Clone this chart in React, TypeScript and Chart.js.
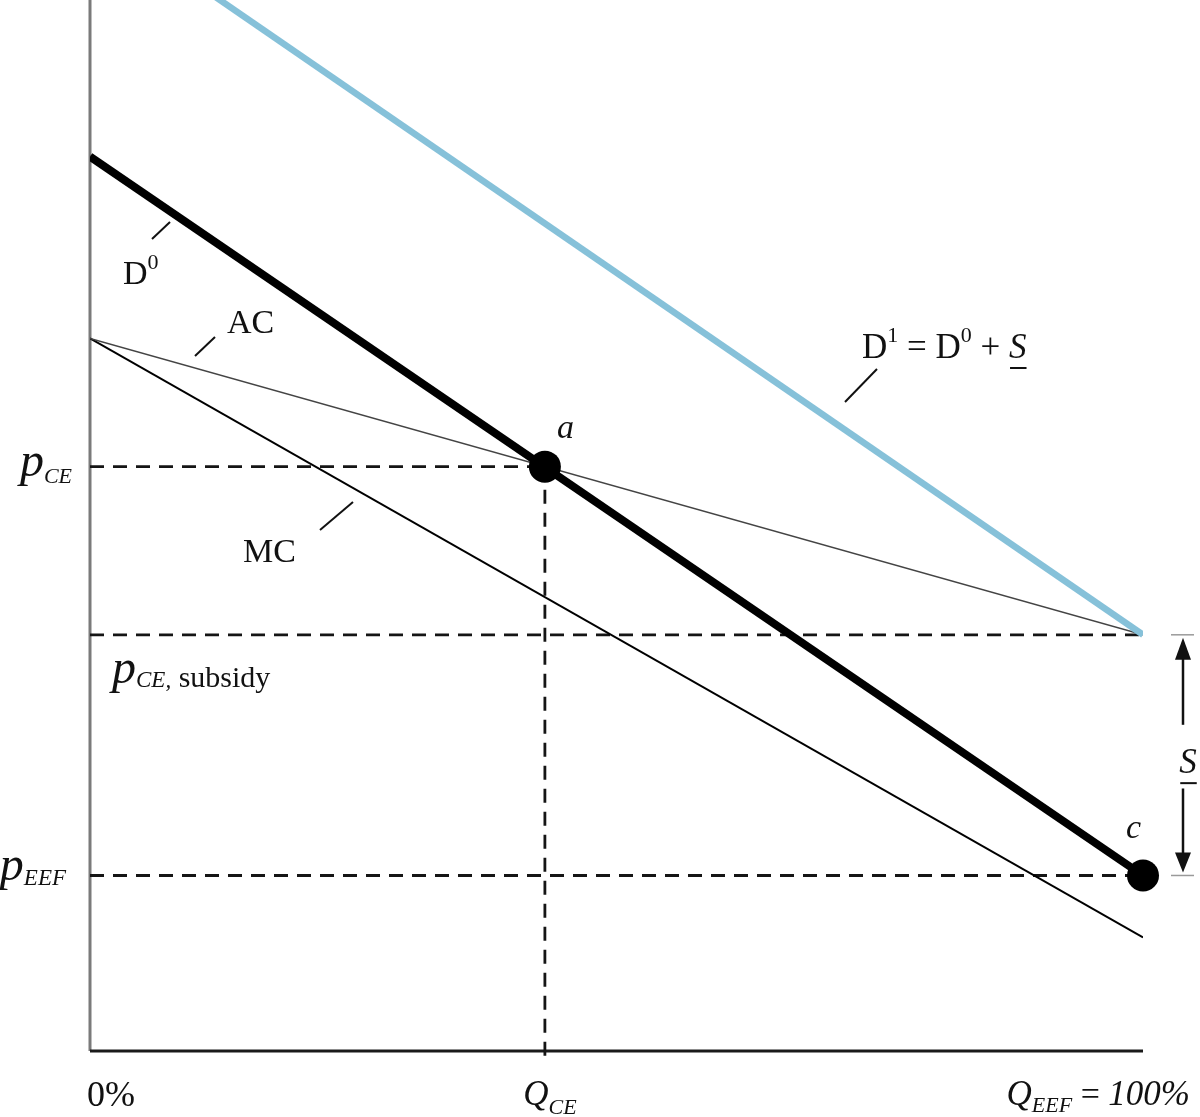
import React, { useEffect, useRef } from "react";
import { Chart, registerables } from "chart.js";

Chart.register(...registerables);

// Quantity share (percent of EEF) at the two ends of each straight curve
const quantityEnds = [0, 100];
// Price levels (arbitrary units, 0..100 of the visible price axis)
const demand0 = [85.1, 16.7];
const demand1 = [108.5, 39.6];
const averageCost = [67.8, 39.6];
const marginalCost = [67.8, 10.8];
const qCE = 43.2;
const pCE = 55.6;
const pSubsidy = 39.6;
const pEEF = 16.7;

const SERIF = '"Liberation Serif", "DejaVu Serif", "Times New Roman", serif';

type Run = { t: string; size: number; italic?: boolean; dy?: number; underline?: boolean };

function fontOf(r: Run) {
  return `${r.italic ? "italic " : ""}${r.size}px ${SERIF}`;
}

function drawRuns(ctx: CanvasRenderingContext2D, x: number, y: number, runs: Run[], align: "left" | "right" | "center" = "left") {
  const widths: number[] = [];
  let total = 0;
  for (const r of runs) {
    ctx.font = fontOf(r);
    const w = ctx.measureText(r.t).width;
    widths.push(w);
    total += w;
  }
  let cx = align === "left" ? x : align === "right" ? x - total : x - total / 2;
  ctx.textAlign = "left";
  ctx.textBaseline = "alphabetic";
  ctx.fillStyle = "#111";
  runs.forEach((r, i) => {
    ctx.font = fontOf(r);
    ctx.fillText(r.t, cx, y + (r.dy || 0));
    if (r.underline) {
      ctx.fillRect(cx + 1, y + (r.dy || 0) + 9, widths[i] - 1, 2);
    }
    cx += widths[i];
  });
}

function seg(ctx: CanvasRenderingContext2D, x1: number, y1: number, x2: number, y2: number, w = 2, color = "#111") {
  ctx.beginPath();
  ctx.strokeStyle = color;
  ctx.lineWidth = w;
  ctx.setLineDash([]);
  ctx.moveTo(x1, y1);
  ctx.lineTo(x2, y2);
  ctx.stroke();
}

const annotationPlugin = {
  id: "econAnnotations",
  afterDatasetsDraw(chart: any) {
    const ctx: CanvasRenderingContext2D = chart.ctx;
    const xs = chart.scales.x;
    const ys = chart.scales.y;
    const X = (v: number) => xs.getPixelForValue(v);
    const Y = (v: number) => ys.getPixelForValue(v);
    ctx.save();

    // axis labels
    drawRuns(ctx, X(0) - 18, Y(pCE) + 9, [
      { t: "p", size: 48, italic: true },
      { t: "CE", size: 22, italic: true, dy: 7 },
    ], "right");
    drawRuns(ctx, X(0) + 22, Y(pSubsidy) + 48, [
      { t: "p", size: 48, italic: true },
      { t: "CE,", size: 23, italic: true, dy: 4 },
      { t: " subsidy", size: 30, dy: 4 },
    ]);
    drawRuns(ctx, X(0) - 24, Y(pEEF) + 5, [
      { t: "p", size: 48, italic: true },
      { t: "EEF", size: 23, italic: true, dy: 5 },
    ], "right");
    drawRuns(ctx, X(0) + 21, Y(0) + 55, [{ t: "0%", size: 36 }], "center");
    drawRuns(ctx, X(qCE) + 5, Y(0) + 54, [
      { t: "Q", size: 35, italic: true },
      { t: "CE", size: 22, italic: true, dy: 9 },
    ], "center");
    drawRuns(ctx, X(100) + 47, Y(0) + 54, [
      { t: "Q", size: 35, italic: true },
      { t: "EEF", size: 22, italic: true, dy: 7 },
      { t: " = ", size: 34 },
      { t: "100%", size: 35, italic: true },
    ], "right");

    // point labels
    drawRuns(ctx, X(qCE) + 12, Y(pCE) - 29, [{ t: "a", size: 34, italic: true }]);
    drawRuns(ctx, X(100) - 17, Y(pEEF) - 37, [{ t: "c", size: 34, italic: true }]);

    // curve labels
    drawRuns(ctx, 123, 284, [
      { t: "D", size: 34 },
      { t: "0", size: 22, dy: -15 },
    ]);
    seg(ctx, 152, 239, 170, 222);
    drawRuns(ctx, 227, 333, [{ t: "AC", size: 34 }]);
    seg(ctx, 195, 356, 215, 337);
    drawRuns(ctx, 243, 562, [{ t: "MC", size: 34 }]);
    seg(ctx, 320, 530, 353, 502);
    drawRuns(ctx, 862, 358, [
      { t: "D", size: 35 },
      { t: "1", size: 22, dy: -16 },
      { t: " = D", size: 35 },
      { t: "0", size: 22, dy: -16 },
      { t: " + ", size: 35 },
      { t: "S", size: 35, italic: true, underline: true },
    ]);
    seg(ctx, 845, 402, 877, 369);

    // subsidy arrow
    const ax = X(100) + 40;
    const yTop = Y(pSubsidy);
    const yBot = Y(pEEF);
    seg(ctx, ax - 12, yTop, ax + 11, yTop, 1.5, "#9a9a9a");
    seg(ctx, ax - 12, yBot, ax + 11, yBot, 1.5, "#9a9a9a");
    ctx.fillStyle = "#111";
    ctx.beginPath();
    ctx.moveTo(ax, yTop + 3);
    ctx.lineTo(ax - 8, yTop + 25);
    ctx.lineTo(ax + 8, yTop + 25);
    ctx.closePath();
    ctx.fill();
    seg(ctx, ax, yTop + 24, ax, yTop + 90, 2.5);
    ctx.beginPath();
    ctx.moveTo(ax, yBot - 3);
    ctx.lineTo(ax - 8, yBot - 23);
    ctx.lineTo(ax + 8, yBot - 23);
    ctx.closePath();
    ctx.fill();
    seg(ctx, ax, yBot - 22, ax, yBot - 87, 2.5);
    drawRuns(ctx, ax + 5, (yTop + yBot) / 2 + 18, [{ t: "S", size: 35, italic: true, underline: true }], "center");

    ctx.restore();
  },
};

function line(xv: number[], yv: number[]) {
  return xv.map((x, i) => ({ x, y: yv[i] }));
}

export default function App() {
  const ref = useRef<HTMLCanvasElement | null>(null);
  useEffect(() => {
    if (!ref.current) return;
    const dash = [14, 9];
    const dashColor = "#151515";
    const chart = new Chart(ref.current, {
      type: "scatter",
      data: {
        datasets: [
          {
            label: "a",
            data: [{ x: qCE, y: pCE }],
            pointRadius: 16,
            pointBackgroundColor: "#000",
            pointBorderWidth: 0,
            showLine: false,
            clip: false,
          } as any,
          {
            label: "c",
            data: [{ x: 100, y: pEEF }],
            pointRadius: 16,
            pointBackgroundColor: "#000",
            pointBorderWidth: 0,
            showLine: false,
            clip: false,
          } as any,
          {
            label: "D0",
            data: line(quantityEnds, demand0),
            showLine: true,
            borderColor: "#000",
            borderWidth: 8,
            pointRadius: 0,
          },
          {
            label: "D1",
            data: line(quantityEnds, demand1),
            showLine: true,
            borderColor: "#86C1D9",
            borderWidth: 6.5,
            pointRadius: 0,
          },
          {
            label: "AC",
            data: line(quantityEnds, averageCost),
            showLine: true,
            borderColor: "#444",
            borderWidth: 1.5,
            pointRadius: 0,
          },
          {
            label: "MC",
            data: line(quantityEnds, marginalCost),
            showLine: true,
            borderColor: "#000",
            borderWidth: 2,
            pointRadius: 0,
          },
          {
            label: "pCE",
            data: [{ x: 0, y: pCE }, { x: qCE, y: pCE }],
            showLine: true,
            borderColor: dashColor,
            borderWidth: 2.8,
            borderDash: dash,
            pointRadius: 0,
          },
          {
            label: "QCE",
            data: [{ x: qCE, y: pCE }, { x: qCE, y: -1.05 }],
            showLine: true,
            borderColor: dashColor,
            borderWidth: 2.8,
            borderDash: dash,
            pointRadius: 0,
            clip: false,
          } as any,
          {
            label: "pSubsidy",
            data: [{ x: 0, y: pSubsidy }, { x: 100, y: pSubsidy }],
            showLine: true,
            borderColor: dashColor,
            borderWidth: 2.8,
            borderDash: dash,
            pointRadius: 0,
          },
          {
            label: "pEEF",
            data: [{ x: 0, y: pEEF }, { x: 100, y: pEEF }],
            showLine: true,
            borderColor: dashColor,
            borderWidth: 2.8,
            borderDash: dash,
            pointRadius: 0,
          },
          {
            label: "xAxis",
            data: [{ x: 0, y: 0 }, { x: 100, y: 0 }],
            showLine: true,
            borderColor: "#1a1a1a",
            borderWidth: 3,
            pointRadius: 0,
            clip: false,
          } as any,
          {
            label: "yAxis",
            data: [{ x: 0, y: 0 }, { x: 0, y: 100 }],
            showLine: true,
            borderColor: "#7a7a7a",
            borderWidth: 3,
            pointRadius: 0,
            clip: false,
          } as any,
        ],
      },
      options: {
        responsive: false,
        animation: false,
        devicePixelRatio: 1,
        layout: { autoPadding: false, padding: { left: 90, right: 57, top: 0, bottom: 66 } },
        scales: {
          x: { type: "linear", min: 0, max: 100, display: false },
          y: { type: "linear", min: 0, max: 100, display: false },
        },
        plugins: {
          legend: { display: false },
          tooltip: { enabled: false },
        },
      } as any,
      plugins: [annotationPlugin],
    });
    return () => chart.destroy();
  }, []);
  return (
    <div style={{ position: "fixed", left: 0, top: 0, width: 1200, height: 1117, background: "#fff" }}>
      <canvas ref={ref} width={1200} height={1117} style={{ width: 1200, height: 1117, display: "block" }} />
    </div>
  );
}
